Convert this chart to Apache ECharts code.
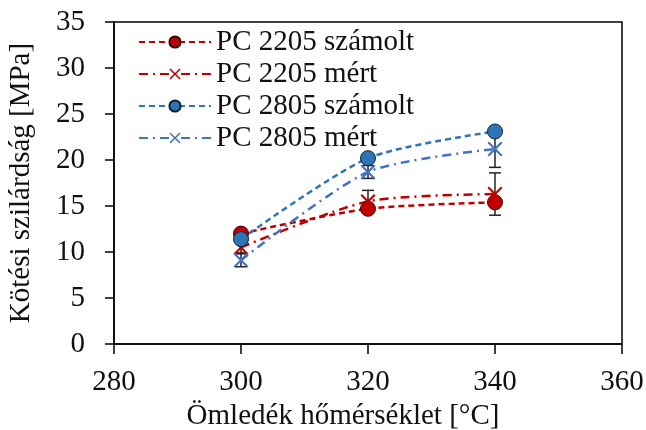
<!DOCTYPE html>
<html>
<head>
<meta charset="UTF-8">
<title>Kötési szilárdság</title>
<style>
  *{margin:0;padding:0;}
  body{background:#fff;}
  #chart{width:646px;height:430px;}
</style>
</head>
<body>
<div id="chart"></div>
<script src="https://cdn.jsdelivr.net/npm/echarts@6/dist/echarts.min.js"></script>
<script>
  // hőmérséklet [°C]
  var temps = [300, 320, 340];
  // PC 2205
  var calc2205 = [12.0, 14.7, 15.4];
  var meas2205 = [10.5, 15.5, 16.3];
  var err2205 = [0.6, 1.2, 2.3];
  // PC 2805
  var calc2805 = [11.4, 20.2, 23.1];
  var meas2805 = [9.1, 18.7, 21.2];
  var err2805 = [0.7, 0.7, 2.0];

  var names = ['PC 2205 számolt', 'PC 2205 mért', 'PC 2805 számolt', 'PC 2805 mért'];
  var FONT = 'Liberation Serif';
  var RED = '#C00000';
  var BLUE = '#2E75B6';
  var BLUE2 = '#4472C4';
  var crossPath = 'path://M0,1 L1,0 L5,4 L9,0 L10,1 L6,5 L10,9 L9,10 L5,6 L1,10 L0,9 L4,5 Z';

  function pairs(vals) {
    return temps.map(function (t, i) { return [t, vals[i]]; });
  }
  function errData(vals, errs) {
    return temps.map(function (t, i) { return [t, vals[i] - errs[i], vals[i] + errs[i]]; });
  }

  // hibasáv rajzolása
  function renderErr(params, api) {
    var lo = api.coord([api.value(0), api.value(1)]);
    var hi = api.coord([api.value(0), api.value(2)]);
    var w = 6;
    var st = {stroke: '#222', lineWidth: 1.5};
    return {
      type: 'group',
      children: [
        {type: 'line', shape: {x1: lo[0], y1: lo[1], x2: hi[0], y2: hi[1]}, style: st},
        {type: 'line', shape: {x1: lo[0] - w, y1: lo[1], x2: lo[0] + w, y2: lo[1]}, style: st},
        {type: 'line', shape: {x1: hi[0] - w, y1: hi[1], x2: hi[0] + w, y2: hi[1]}, style: st}
      ]
    };
  }

  var myChart = echarts.init(document.getElementById('chart'));
  var option = {
    animation: false,
    grid: {
      left: 114, right: 24, top: 22, bottom: 86,
      containLabel: false, outerBoundsMode: 'none',
      show: true, borderColor: '#000', borderWidth: 1.5
    },
    legend: {
      data: names,
      orient: 'vertical',
      left: 133,
      top: 21,
      itemWidth: 72,
      itemHeight: 14,
      itemGap: 0,
      textStyle: {fontFamily: FONT, fontSize: 29, color: '#111', lineHeight: 32}
    },
    xAxis: {
      type: 'value',
      min: 280, max: 360, interval: 20,
      name: 'Ömledék hőmérséklet [°C]',
      nameLocation: 'middle',
      nameGap: 56,
      nameTextStyle: {fontFamily: FONT, fontSize: 29, color: '#111', padding: [0, 50, 0, 0]},
      axisLine: {onZero: false, lineStyle: {color: '#000', width: 1.5}},
      axisTick: {show: true, length: 10, lineStyle: {color: '#000', width: 1.5}},
      axisLabel: {fontFamily: FONT, fontSize: 29, color: '#111', margin: 24},
      splitLine: {show: false}
    },
    yAxis: {
      type: 'value',
      min: 0, max: 35, interval: 5,
      name: 'Kötési szilárdság [MPa]',
      nameLocation: 'middle',
      nameGap: 78,
      nameTextStyle: {fontFamily: FONT, fontSize: 29, color: '#111'},
      axisLine: {show: true, lineStyle: {color: '#000', width: 1.5}},
      axisTick: {show: true, length: 9, lineStyle: {color: '#000', width: 1.5}},
      axisLabel: {fontFamily: FONT, fontSize: 29, color: '#111', margin: 29},
      splitLine: {show: false}
    },
    series: [
      {
        type: 'custom', name: 'err2205', renderItem: renderErr,
        data: errData(meas2205, err2205), z: 1, silent: true
      },
      {
        type: 'custom', name: 'err2805', renderItem: renderErr,
        data: errData(meas2805, err2805), z: 1, silent: true
      },
      {
        name: names[0], type: 'line', smooth: 0.25, data: pairs(calc2205),
        symbol: 'circle', symbolSize: 15, z: 3,
        lineStyle: {color: RED, width: 2.5, type: [6, 4]},
        itemStyle: {color: RED, borderColor: '#3a0000', borderWidth: 1}
      },
      {
        name: names[1], type: 'line', smooth: 0.25, data: pairs(meas2205),
        symbol: crossPath, symbolSize: 15, z: 3,
        lineStyle: {color: RED, width: 2.5, type: [9, 5, 2, 5]},
        itemStyle: {color: RED}
      },
      {
        name: names[2], type: 'line', smooth: 0.25, data: pairs(calc2805),
        symbol: 'circle', symbolSize: 15, z: 3,
        lineStyle: {color: BLUE, width: 2.5, type: [6, 4]},
        itemStyle: {color: BLUE, borderColor: '#0d2233', borderWidth: 1}
      },
      {
        name: names[3], type: 'line', smooth: 0.25, data: pairs(meas2805),
        symbol: crossPath, symbolSize: 15, z: 3,
        lineStyle: {color: BLUE2, width: 2.5, type: [9, 5, 2, 5]},
        itemStyle: {color: BLUE2}
      }
    ]
  };
  myChart.setOption(option);
</script>
</body>
</html>
